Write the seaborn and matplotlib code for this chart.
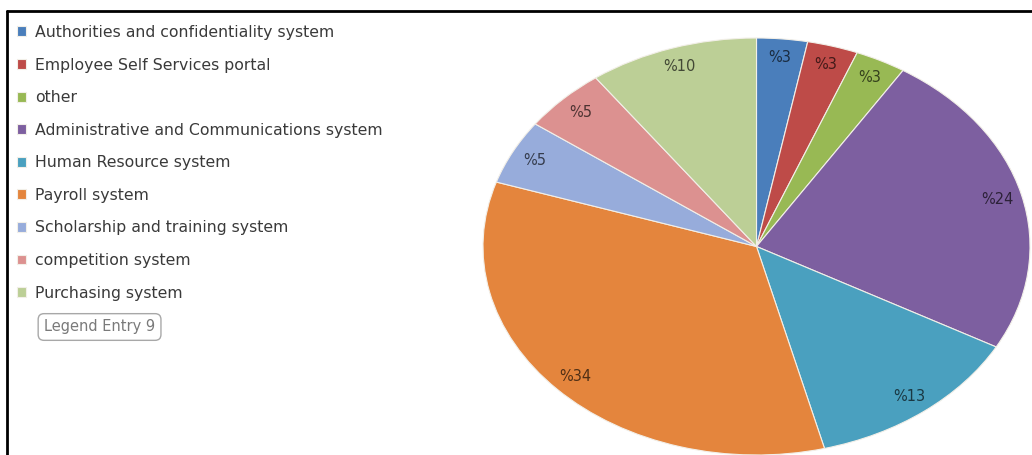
import matplotlib
matplotlib.use("Agg")
import matplotlib.pyplot as plt
import seaborn as sns
import numpy as np
from matplotlib.lines import Line2D
from matplotlib.colors import to_rgb

# data
systems = [
    "Authorities and confidentiality system",
    "Employee Self Services portal",
    "other",
    "Administrative and Communications system",
    "Human Resource system",
    "Payroll system",
    "Scholarship and training system",
    "competition system",
    "Purchasing system",
]
shares = [3, 3, 3, 24, 13, 34, 5, 5, 10]

palette = ["#4a7ebb", "#be4b48", "#98b954", "#7d5fa0", "#4aa0bf",
           "#e4853d", "#97acdb", "#dc9190", "#bccf96"]

sns.set_style("white")
plt.rcParams["font.family"] = ["DejaVu Sans"]

W, H = 1032, 455
fig = plt.figure(figsize=(W / 100, H / 100), dpi=100)

# pie (stretched horizontally like the original)
ax = fig.add_axes([483 / W, 0, 547 / W, 417 / H])
colors = sns.color_palette(palette)
wedges, _, autotexts = ax.pie(
    shares, colors=colors, startangle=90, counterclock=False,
    autopct=lambda p: f"%{p:.0f}", pctdistance=0.91,
    wedgeprops=dict(edgecolor="#f2efe8", linewidth=0.8),
    textprops=dict(fontsize=10.5),
)
for t, c in zip(autotexts, colors):
    t.set_color(tuple(np.array(to_rgb(c)) * 0.35))
ax.set_aspect("auto")
ax.set_xlim(-1, 1)
ax.set_ylim(-1, 1)

# legend
fig.legend(wedges, systems, loc="upper left", bbox_to_anchor=(17 / W, 1 - 25 / H),
           frameon=False, borderpad=0, borderaxespad=0, fontsize=11.3,
           labelspacing=1.12, handlelength=0.6, handleheight=0.6,
           handletextpad=0.55, labelcolor="#3a3a3a")

fig.text(44 / W, 1 - 327 / H, "Legend Entry 9", fontsize=10.5, color="#7a7a7a",
         va="center", ha="left",
         bbox=dict(boxstyle="round,pad=0.4", fc="white", ec="#a8a8a8", lw=1))

# outer frame (left and top)
fig.add_artist(Line2D([7 / W, 7 / W], [0, 1 - 11 / H], transform=fig.transFigure,
                      color="black", lw=2))
fig.add_artist(Line2D([7 / W, 1], [1 - 11 / H, 1 - 11 / H], transform=fig.transFigure,
                      color="black", lw=2))

fig.savefig("out.png", dpi=100)
